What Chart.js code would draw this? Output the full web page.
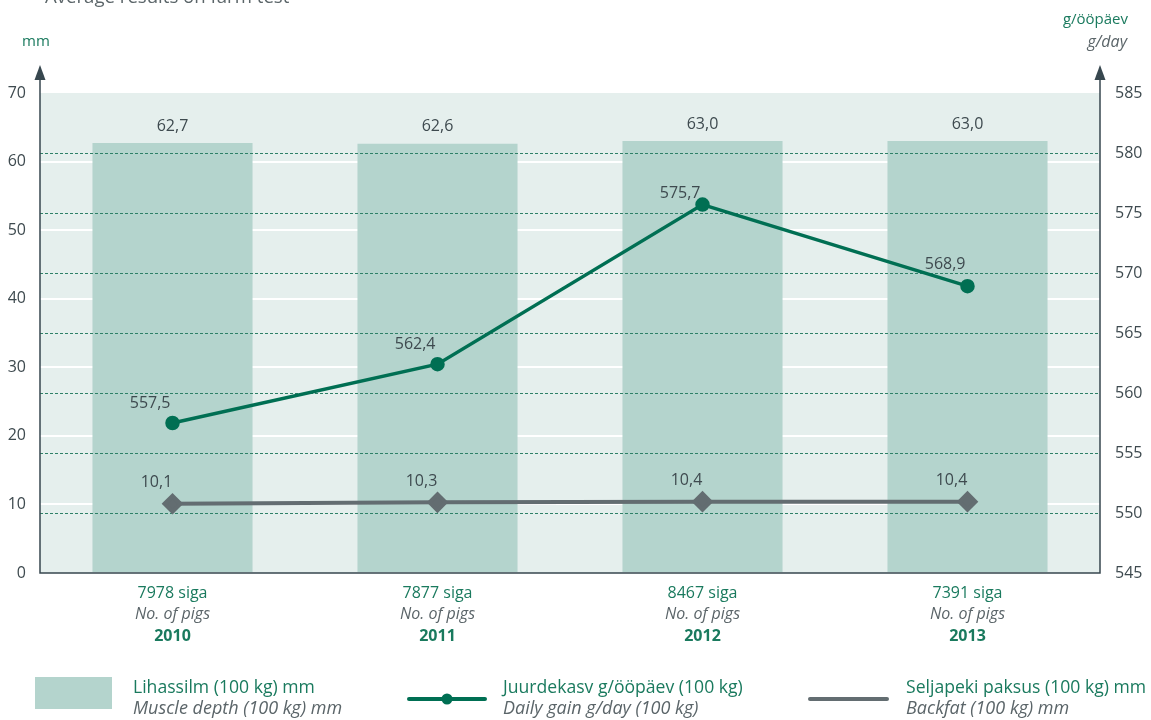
<!DOCTYPE html>
<html><head><meta charset="utf-8">
<script src="https://cdn.jsdelivr.net/npm/chart.js@4"></script>
<style>html,body{margin:0;padding:0;background:#fff;}#wrap{width:1151px;height:720px;}</style>
</head><body><div id="wrap"><canvas id="c" width="1151" height="720"></canvas></div>
<script>
const years = ['2010', '2011', '2012', '2013'];
const pigCounts = [7978, 7877, 8467, 7391];
const muscleDepth = [62.7, 62.6, 63.0, 63.0];
const dailyGain = [557.5, 562.4, 575.7, 568.9];
const backfat = [10.1, 10.3, 10.4, 10.4];
const leftTicks = {min: 0, max: 70, step: 10};
const rightTicks = {min: 545, max: 585, step: 5};

const FONT = "'Open Sans', 'Noto Sans', sans-serif";
const C = {bg:'#e5efed', bar:'#b4d4cd', green:'#006f53', gray:'#636d71', text:'#3e4a4f', dash:'#2e8067', axis:'#37474f', title:'#1a7a5e', sub:'#5b6569'};
const fmt = v => v.toFixed(1).replace('.', ',');

const decor = {
  id: 'decor',
  beforeDraw(chart) {
    const {ctx, chartArea: a} = chart;
    ctx.save();
    ctx.fillStyle = C.bg;
    ctx.fillRect(a.left, a.top, a.right - a.left, a.bottom - a.top);
    ctx.restore();
  },
  afterDatasetDraw(chart, args) {
    if (args.index !== 0) return;
    const {ctx, chartArea: a} = chart;
    const s = chart.scales.y2;
    ctx.save();
    ctx.strokeStyle = C.dash; ctx.lineWidth = 1; ctx.setLineDash([3, 2]);
    s.ticks.forEach(t => {
      if (t.value <= s.min || t.value >= s.max) return;
      const y = Math.round(s.getPixelForValue(t.value)) + 0.5;
      ctx.beginPath(); ctx.moveTo(a.left, y); ctx.lineTo(a.right, y); ctx.stroke();
    });
    ctx.restore();
  },
  afterDraw(chart) {
    const {ctx, chartArea: a} = chart;
    const x = chart.scales.x;
    ctx.save();
    // axes
    ctx.strokeStyle = C.axis; ctx.fillStyle = C.axis; ctx.lineWidth = 1.5;
    ctx.beginPath();
    ctx.moveTo(a.left, 72); ctx.lineTo(a.left, a.bottom); ctx.lineTo(a.right, a.bottom); ctx.lineTo(a.right, 72);
    ctx.stroke();
    [a.left, a.right].forEach(px => {
      ctx.beginPath(); ctx.moveTo(px, 65); ctx.lineTo(px - 5.5, 80); ctx.lineTo(px + 5.5, 80); ctx.closePath(); ctx.fill();
    });
    // title (cropped)
    ctx.textBaseline = 'alphabetic'; ctx.textAlign = 'left';
    ctx.fillStyle = C.sub; ctx.font = `18.6px ${FONT}`;
    ctx.fillText('Average results on farm test', 45, 3);
    // unit labels
    ctx.fillStyle = C.title; ctx.font = `15px ${FONT}`;
    ctx.textBaseline = 'middle';
    ctx.fillText('mm', 22, 42);
    ctx.textAlign = 'right';
    ctx.fillText('g/ööpäev', 1128, 20);
    ctx.fillStyle = C.sub; ctx.font = `italic 16px ${FONT}`;
    ctx.fillText('g/day', 1127, 42);
    // bar value labels
    ctx.textAlign = 'center'; ctx.fillStyle = C.text; ctx.font = `16px ${FONT}`;
    const mb = chart.getDatasetMeta(0);
    mb.data.forEach((el, i) => ctx.fillText(fmt(muscleDepth[i]), el.x, el.y - 17));
    // line labels
    const mg = chart.getDatasetMeta(1);
    const lift = [20, 20, 11, 22];
    ctx.textAlign = 'right';
    mg.data.forEach((el, i) => ctx.fillText(fmt(dailyGain[i]), el.x - 2, el.y - lift[i]));
    const mf = chart.getDatasetMeta(2);
    ctx.textAlign = 'center';
    mf.data.forEach((el, i) => ctx.fillText(fmt(backfat[i]), el.x - 16, el.y - 21));
    // x category labels
    years.forEach((yr, i) => {
      const px = x.getPixelForTick(i);
      ctx.fillStyle = C.title; ctx.font = `16px ${FONT}`;
      ctx.fillText(pigCounts[i] + ' siga', px, 593);
      ctx.fillStyle = C.sub; ctx.font = `italic 16px ${FONT}`;
      ctx.fillText('No. of pigs', px, 614);
      ctx.fillStyle = C.title; ctx.font = `bold 16px ${FONT}`;
      ctx.fillText(yr, px, 636);
    });
    // legend
    ctx.textAlign = 'left';
    ctx.fillStyle = C.bar; ctx.fillRect(35, 677, 77, 32);
    ctx.strokeStyle = C.green; ctx.lineWidth = 4; ctx.lineCap = 'round';
    ctx.beginPath(); ctx.moveTo(409, 699); ctx.lineTo(485, 699); ctx.stroke();
    ctx.fillStyle = C.green; ctx.beginPath(); ctx.arc(447, 699, 5.5, 0, Math.PI * 2); ctx.fill();
    ctx.strokeStyle = C.gray;
    ctx.beginPath(); ctx.moveTo(810, 699); ctx.lineTo(887, 699); ctx.stroke();
    const leg = [[133, 'Lihassilm (100 kg) mm', 'Muscle depth (100 kg) mm'],
                 [503, 'Juurdekasv g/ööpäev (100 kg)', 'Daily gain g/day (100 kg)'],
                 [906, 'Seljapeki paksus (100 kg) mm', 'Backfat (100 kg) mm']];
    leg.forEach(([lx, t1, t2]) => {
      ctx.fillStyle = C.title; ctx.font = `17.6px ${FONT}`;
      ctx.fillText(t1, lx, 688);
      ctx.fillStyle = C.sub; ctx.font = `italic 18px ${FONT}`;
      ctx.fillText(t2, lx, 709);
    });
    ctx.restore();
  }
};

new Chart(document.getElementById('c'), {
  data: {
    labels: years,
    datasets: [
      {type: 'bar', label: 'Lihassilm (100 kg) mm', data: muscleDepth, yAxisID: 'y', backgroundColor: C.bar,
       categoryPercentage: 1, barPercentage: 0.604, order: 10},
      {type: 'line', label: 'Juurdekasv g/ööpäev (100 kg)', data: dailyGain, yAxisID: 'y2', borderColor: C.green,
       backgroundColor: C.green, borderWidth: 3.5, pointRadius: 5.5, pointHoverRadius: 5.5, tension: 0, order: 2},
      {type: 'line', label: 'Seljapeki paksus (100 kg) mm', data: backfat, yAxisID: 'y', borderColor: C.gray,
       backgroundColor: C.gray, borderWidth: 4, pointStyle: 'rectRot', pointRadius: 8, pointHoverRadius: 8, tension: 0, order: 1}
    ]
  },
  options: {
    responsive: false, animation: false, maintainAspectRatio: false,
    layout: {padding: {top: 93, left: 0, right: 0, bottom: 0}},
    plugins: {legend: {display: false}, tooltip: {enabled: false}, title: {display: false}},
    scales: {
      x: {offset: true, grid: {display: false}, border: {display: false}, ticks: {display: false},
          afterFit(s) { s.height = 147; }},
      y: {position: 'left', min: leftTicks.min, max: leftTicks.max,
          ticks: {stepSize: leftTicks.step, padding: 14, color: C.text, font: {family: FONT, size: 16}},
          grid: {drawTicks: false, lineWidth: 2, color: c => (c.tick && (c.tick.value === leftTicks.min || c.tick.value === leftTicks.max)) ? 'rgba(0,0,0,0)' : '#ffffff'},
          border: {display: false},
          afterFit(s) { s.width = 40; }},
      y2: {position: 'right', min: rightTicks.min, max: rightTicks.max,
          ticks: {stepSize: rightTicks.step, padding: 15, color: C.text, font: {family: FONT, size: 16}},
          grid: {display: false, drawTicks: false}, border: {display: false},
          afterFit(s) { s.width = 51; }}
    }
  },
  plugins: [decor]
});
</script></body></html>
